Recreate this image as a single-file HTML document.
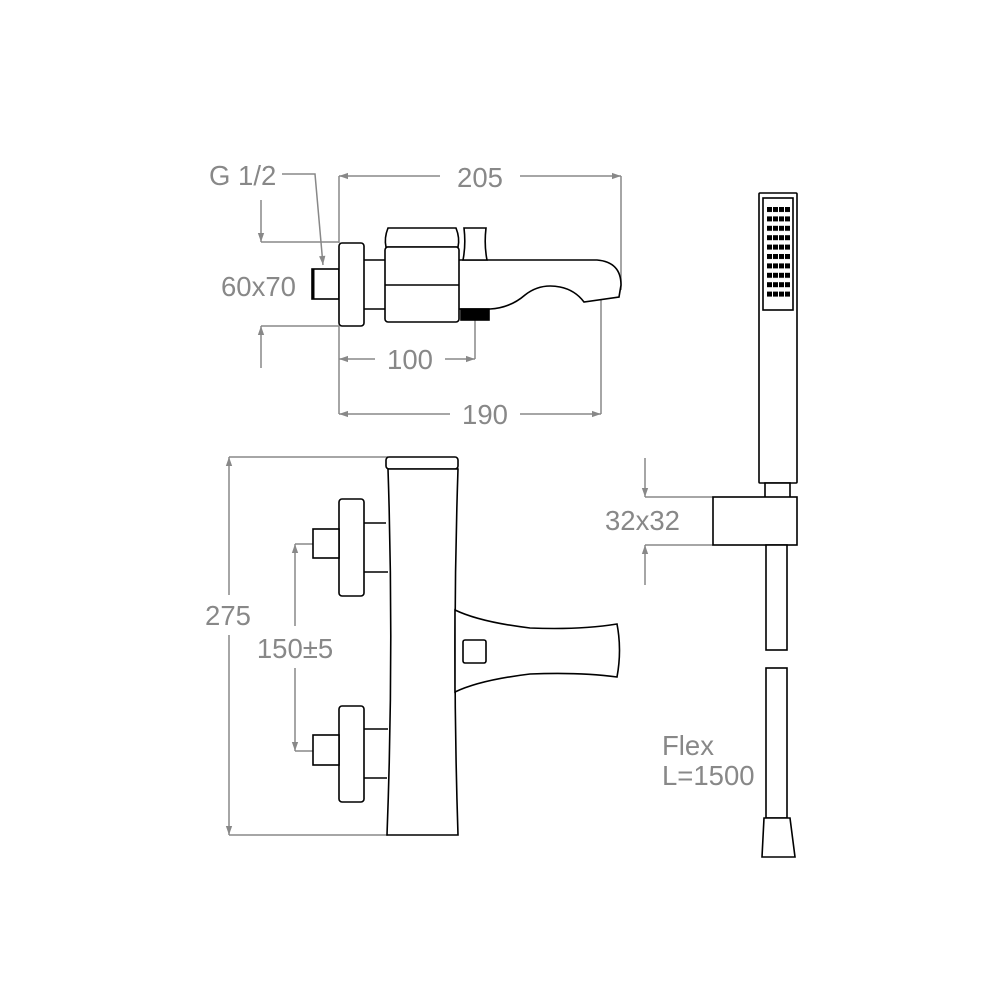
<!DOCTYPE html>
<html><head><style>
html,body{margin:0;padding:0;background:#fff;}
svg{display:block;}
text{font-family:"Liberation Sans",sans-serif;fill:#888;font-size:27.5px;}
</style></head><body>
<svg width="1000" height="1000" viewBox="0 0 1000 1000" xmlns="http://www.w3.org/2000/svg">
<defs>
<marker id="a" viewBox="0 0 10 10" refX="10" refY="5" markerWidth="14" markerHeight="9" markerUnits="userSpaceOnUse" orient="auto"><path d="M0,1.5 L10,5 L0,8.5z" fill="#888"/></marker>
</defs>
<g stroke="#888" stroke-width="1.5" fill="none">
<line x1="339" y1="176" x2="339" y2="243"/>
<line x1="621" y1="176" x2="621" y2="290"/>
<line x1="440" y1="176" x2="339" y2="176" marker-end="url(#a)"/>
<line x1="520" y1="176" x2="621" y2="176" marker-end="url(#a)"/>
<polyline points="282,174 315,174 323,265" marker-end="url(#a)"/>
<line x1="261" y1="200" x2="261" y2="242" marker-end="url(#a)"/>
<line x1="261" y1="242" x2="339" y2="242"/>
<line x1="261" y1="326" x2="339" y2="326"/>
<line x1="261" y1="368" x2="261" y2="326" marker-end="url(#a)"/>
<line x1="339" y1="326" x2="339" y2="414"/>
<line x1="475" y1="295" x2="475" y2="359"/>
<line x1="375" y1="359" x2="339" y2="359" marker-end="url(#a)"/>
<line x1="445" y1="359" x2="475" y2="359" marker-end="url(#a)"/>
<line x1="601" y1="280" x2="601" y2="414"/>
<line x1="450" y1="414" x2="339" y2="414" marker-end="url(#a)"/>
<line x1="520" y1="414" x2="601" y2="414" marker-end="url(#a)"/>
<line x1="229" y1="457" x2="388" y2="457"/>
<line x1="229" y1="835" x2="388" y2="835"/>
<line x1="229" y1="595" x2="229" y2="457" marker-end="url(#a)"/>
<line x1="229" y1="635" x2="229" y2="835" marker-end="url(#a)"/>
<line x1="295" y1="544" x2="335" y2="544"/>
<line x1="295" y1="751" x2="335" y2="751"/>
<line x1="295" y1="626" x2="295" y2="544" marker-end="url(#a)"/>
<line x1="295" y1="668" x2="295" y2="751" marker-end="url(#a)"/>
<line x1="645" y1="497" x2="713" y2="497"/>
<line x1="645" y1="545" x2="713" y2="545"/>
<line x1="645" y1="458" x2="645" y2="497" marker-end="url(#a)"/>
<line x1="645" y1="585" x2="645" y2="545" marker-end="url(#a)"/>
</g>
<text x="209" y="185">G 1/2</text>
<text x="480" y="187" text-anchor="middle">205</text>
<text x="221" y="296">60x70</text>
<text x="410" y="369" text-anchor="middle">100</text>
<text x="485" y="424" text-anchor="middle">190</text>
<text x="228" y="625" text-anchor="middle">275</text>
<text x="295" y="658" text-anchor="middle">150±5</text>
<text x="605" y="530">32x32</text>
<text x="662" y="755">Flex</text>
<text x="662" y="785">L=1500</text>

<g stroke="#000" stroke-width="1.6" fill="#fff">
<rect x="312" y="269" width="27" height="30"/>
<line x1="313" y1="269" x2="313" y2="299" stroke-width="3"/>
<rect x="339" y="243" width="25" height="83" rx="3"/>
<line x1="364" y1="260" x2="385" y2="260"/>
<line x1="364" y1="309" x2="385" y2="309"/>
<path d="M459,260 L597,260 Q621,262 621,285 L619,297 L584,302 Q575,290 560,287 Q540,283 525,295 Q510,308 490,309 L459,309"/>
<rect x="461" y="309" width="28" height="11" fill="#000"/>
<path d="M388,228 L456,228 Q460,238 458,247 L386,247 Q384,238 388,228z"/>
<rect x="385" y="247" width="74" height="75" rx="3"/>
<line x1="385" y1="285" x2="459" y2="285"/>
<path d="M464,228 L486,228 Q484,245 487,260 L463,260 Q466,245 464,228z"/>

<rect x="386" y="457" width="72" height="12" rx="3"/>
<path d="M388,469 Q394,650 387,835 L458,835 Q452,650 458,469z"/>
<line x1="364" y1="523" x2="386" y2="523"/>
<line x1="364" y1="572" x2="388" y2="572"/>
<line x1="364" y1="729" x2="388" y2="729"/>
<line x1="364" y1="778" x2="387" y2="778"/>
<rect x="339" y="499" width="25" height="97" rx="3"/>
<rect x="339" y="706" width="25" height="96" rx="3"/>
<rect x="313" y="529" width="26" height="29"/>
<rect x="313" y="735" width="26" height="30"/>
<path d="M455,610 Q480,622 530,628 Q580,630 617,624 Q622,650 617,677 Q580,672 530,674 Q480,680 455,692z"/>
<rect x="463" y="640" width="23" height="23" rx="2"/>

<rect x="759" y="193" width="38" height="290" rx="1"/>
<rect x="763" y="198" width="30" height="112"/>
<rect x="765" y="483" width="25" height="17"/>
<rect x="713" y="497" width="84" height="48"/>
<rect x="766" y="545" width="21" height="105"/>
<rect x="766" y="668" width="21" height="150"/>
<path d="M764,818 L790,818 L795,857 L762,857z"/>
</g>
<pattern id="p" x="767" y="207" width="6" height="9.4" patternUnits="userSpaceOnUse"><rect width="5" height="5" fill="#000"/></pattern>
<rect x="767" y="207" width="24" height="94" fill="url(#p)"/>
</svg>
</body></html>
